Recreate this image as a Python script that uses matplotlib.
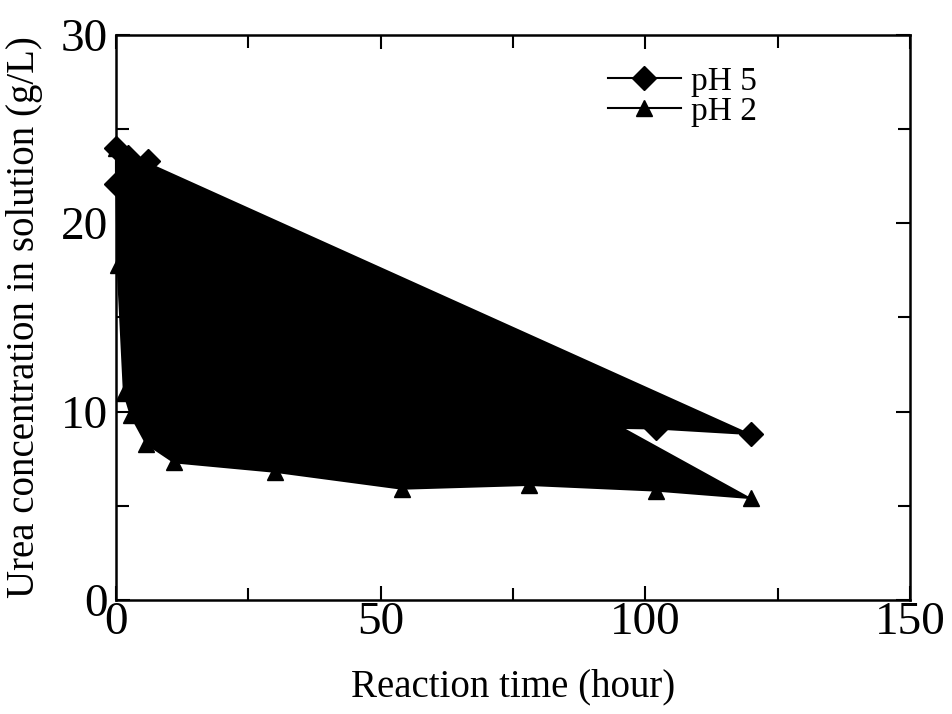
import matplotlib.pyplot as plt
from matplotlib.ticker import MultipleLocator

# reaction time (hour) and urea concentration (g/L)
t_ph5 = [0, 0, 2.3, 6, 11, 30, 54, 78, 102, 120]
c_ph5 = [24.0, 22.1, 23.5, 23.3, 20.5, 15.0, 11.5, 9.2, 9.1, 8.8]

t_ph2 = [0, 0.3, 1.5, 2.8, 5.7, 11, 30, 54, 78, 102, 120]
c_ph2 = [24.0, 17.8, 11.0, 9.8, 8.3, 7.3, 6.8, 5.9, 6.1, 5.8, 5.4]

plt.rcParams['font.family'] = ['Liberation Serif', 'DejaVu Serif']

fig = plt.figure(figsize=(9.53, 7.14), dpi=100)
ax = fig.add_axes([0.1217, 0.160, 0.8333, 0.791])

# series drawn as filled polygons, as in the original figure
ax.fill(t_ph5, c_ph5, color='black', lw=0)
ax.fill(t_ph2, c_ph2, color='black', lw=0)
ax.plot(t_ph5, c_ph5, color='black', marker='D', ms=12, lw=1.5,
        label='pH 5', clip_on=False)
ax.plot(t_ph2, c_ph2, color='black', marker='^', ms=12, lw=1.5,
        label='pH 2', clip_on=False)

ax.set_xlim(0, 150)
ax.set_ylim(0, 30)
ax.xaxis.set_major_locator(MultipleLocator(50))
ax.xaxis.set_minor_locator(MultipleLocator(25))
ax.yaxis.set_major_locator(MultipleLocator(10))
ax.yaxis.set_minor_locator(MultipleLocator(5))
ax.tick_params(which='both', direction='in', top=True, right=True, width=1.5)
ax.tick_params(which='major', length=10, labelsize=34, pad=1)
ax.tick_params(axis='y', which='major', pad=6)
ax.tick_params(which='minor', length=9)
for s in ax.spines.values():
    s.set_linewidth(1.8)

ax.set_xlabel('Reaction time (hour)', fontsize=28, labelpad=18)
ax.set_ylabel('Urea concentration in solution (g/L)', fontsize=28)
ax.yaxis.set_label_coords(-0.092, 0.5)

ax.legend(loc='upper right', bbox_to_anchor=(0.845, 0.998), frameon=False,
          fontsize=24, handlelength=2.2, handletextpad=0.3, labelspacing=0.0)

plt.savefig('out.png', dpi=100)
